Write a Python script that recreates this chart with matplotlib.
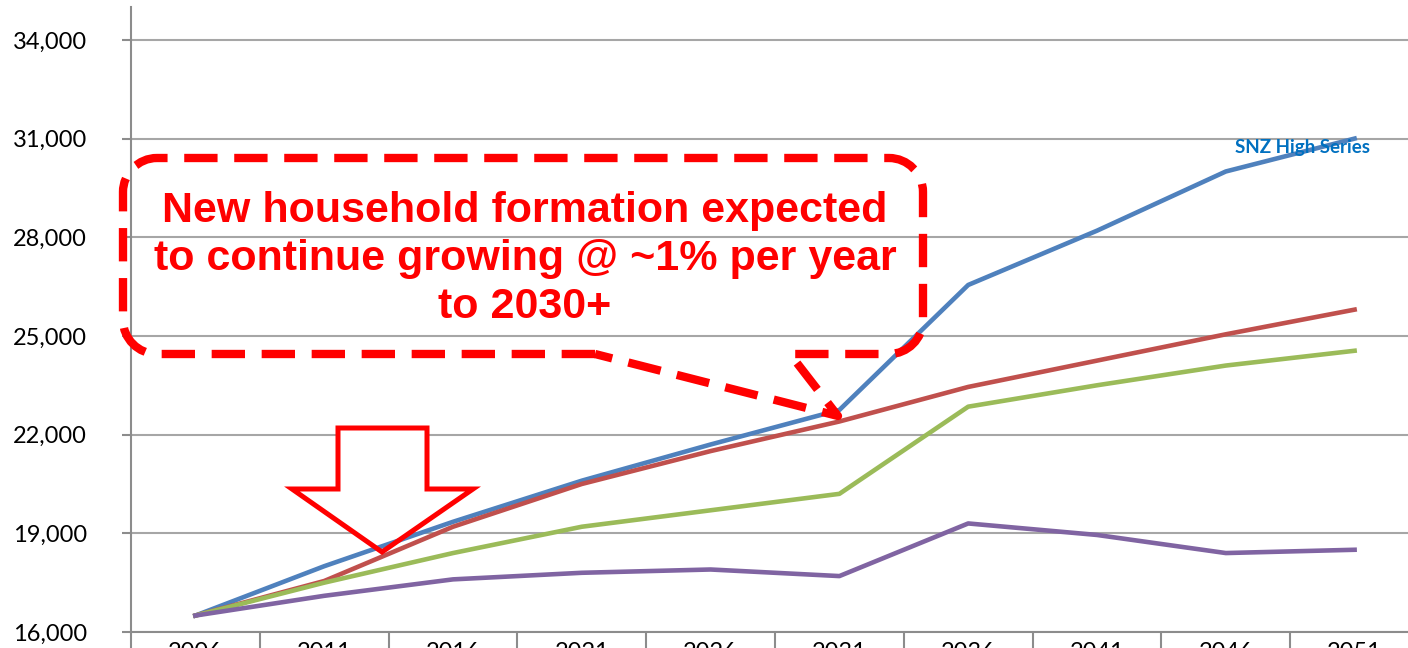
import matplotlib
matplotlib.use('Agg')
import matplotlib.pyplot as plt
import matplotlib.transforms as mtransforms
from matplotlib.path import Path
from matplotlib.patches import PathPatch, Polygon
from matplotlib.ticker import FuncFormatter, FixedLocator

W, H = 1408, 648

years = ['2006', '2011', '2016', '2021', '2026', '2031', '2036', '2041', '2046', '2051']
snz_high = [16500, 18000, 19350, 20600, 21700, 22750, 26550, 28200, 30000, 31000]
series_red = [16500, 17550, 19200, 20500, 21500, 22400, 23450, 24250, 25050, 25800]
series_green = [16500, 17500, 18400, 19200, 19700, 20200, 22850, 23500, 24100, 24550]
series_purple = [16500, 17100, 17600, 17800, 17900, 17700, 19300, 18950, 18400, 18500]

callout_text = 'New household formation expected\nto continue growing @ ~1% per year\nto 2030+'

fig = plt.figure(figsize=(W / 100, H / 100), dpi=100)
ax = fig.add_axes([131 / W, 16 / H, (1419 - 131) / W, (632 - 7) / H])

x = list(range(len(years)))
ax.plot(x, snz_high, color='#4F81BD', lw=3.3, solid_joinstyle='round', zorder=4)
ax.plot(x, series_red, color='#C0504D', lw=3.3, solid_joinstyle='round', zorder=4)
ax.plot(x, series_green, color='#9BBB59', lw=3.3, solid_joinstyle='round', zorder=4)
ax.plot(x, series_purple, color='#8064A2', lw=3.3, solid_joinstyle='round', zorder=4)

ax.set_xlim(-0.5, len(years) - 0.5)
ax.set_ylim(16000, 35000)
ax.set_yticks(range(16000, 34001, 3000))
ax.yaxis.set_major_formatter(FuncFormatter(lambda v, p: f'{v:,.0f}'))
ax.set_xticks(x)
ax.set_xticklabels(years)
ax.xaxis.set_minor_locator(FixedLocator([i - 0.5 for i in range(len(years) + 1)]))

gray = '#8C8C8C'
ax.grid(axis='y', color='#A6A6A6', lw=1.5, zorder=0)
ax.set_axisbelow(True)
for s in ['top', 'right']:
    ax.spines[s].set_visible(False)
for s in ['left', 'bottom']:
    ax.spines[s].set_color(gray)
    ax.spines[s].set_linewidth(1.5)

ax.tick_params(axis='y', direction='out', length=6.5, width=1.5, color=gray, pad=25,
               labelsize=17, labelfontfamily='Lato')
ax.tick_params(axis='x', which='major', length=0, pad=7, labelsize=17, labelfontfamily='Lato')
ax.tick_params(axis='x', which='minor', direction='out', length=20, width=1.5, color=gray)

ax.text(8.07, 30720, 'SNZ High Series', color='#0070C0', fontsize=13.5, fontweight='bold',
        family='Lato', ha='left', va='center', zorder=5)

# pixel coordinates of the figure (origin top-left)
pix = mtransforms.Affine2D().scale(1 / W, -1 / H).translate(0, 1) + fig.transFigure

# callout box with pointer
L, T, R, B, r = 123, 158, 923, 354, 34
k = 0.55 * r
verts = [
    (595, B), (L + r, B),
    (L + r - k, B), (L, B - r + k), (L, B - r),
    (L, T + r),
    (L, T + r - k), (L + r - k, T), (L + r, T),
    (R - r, T),
    (R - r + k, T), (R, T + r - k), (R, T + r),
    (R, B - r),
    (R, B - r + k), (R - r + k, B), (R - r, B),
    (790, B), (838, 416), (595, B),
]
codes = [Path.MOVETO, Path.LINETO,
         Path.CURVE4, Path.CURVE4, Path.CURVE4,
         Path.LINETO,
         Path.CURVE4, Path.CURVE4, Path.CURVE4,
         Path.LINETO,
         Path.CURVE4, Path.CURVE4, Path.CURVE4,
         Path.LINETO,
         Path.CURVE4, Path.CURVE4, Path.CURVE4,
         Path.LINETO, Path.LINETO, Path.CLOSEPOLY]
box = PathPatch(Path(verts, codes), transform=pix, fill=False, edgecolor='#FF0000',
                lw=6, linestyle=(0, (4, 2)), joinstyle='round', clip_on=False, zorder=6)
ax.add_patch(box)

ax.text(525, 259, callout_text, transform=pix, color='#FF0000', fontsize=31,
        fontweight='bold', family='Liberation Sans',
        ha='center', va='center', multialignment='center', linespacing=1.27, zorder=6)

# hollow down arrow
arrow_pts = [(338, 428), (427, 428), (427, 489), (473, 489), (382, 552),
             (292, 489), (338, 489)]
ax.add_patch(Polygon(arrow_pts, closed=True, transform=pix, facecolor='white',
                     edgecolor='none', clip_on=False, zorder=2))
ax.add_patch(Polygon(arrow_pts, closed=True, transform=pix, fill=False,
                     edgecolor='#FF0000', lw=3.6, joinstyle='miter', clip_on=False, zorder=6))

fig.savefig('out.png', dpi=100)
